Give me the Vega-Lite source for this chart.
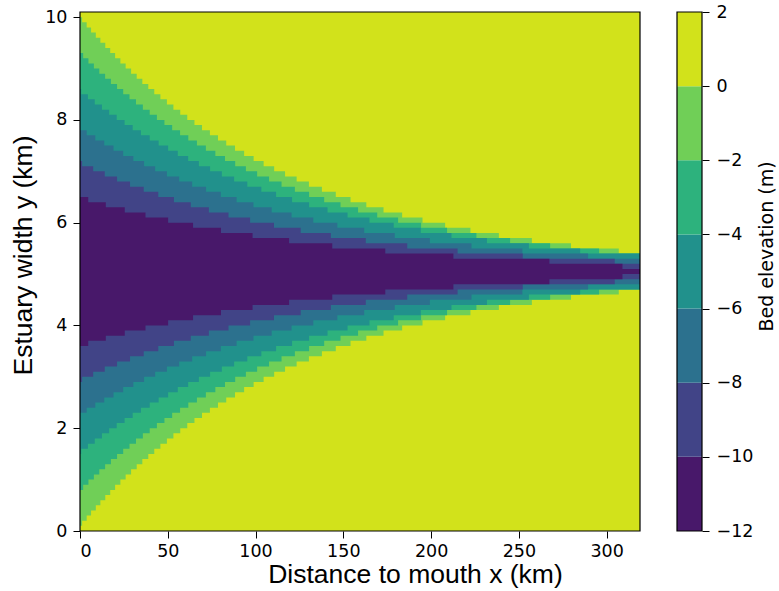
{
"$schema":"https://vega.github.io/schema/vega-lite/v6.json",
"background":"white",
"padding":{"left":10,"top":3,"right":0,"bottom":0},
"spacing":35,
"config":{
 "view":{"stroke":null},
 "axis":{"grid":false,"domain":false,"tickColor":"#000","labelColor":"#000","titleColor":"#000","labelFont":"DejaVu Sans","labelFontSize":17.5,"titleFont":"Liberation Sans","titleFontSize":26.5,"titleFontWeight":"normal","tickSize":7,"tickWidth":1}
},
"datasets":{
"bed":[
{"x":0,"band":0,"hi":10.1,"lo":0},{"x":319,"band":0,"hi":10.1,"lo":0},
{"x":0,"band":-2,"hi":10.0,"lo":0.1},{"x":1.2,"band":-2,"hi":9.9,"lo":0.2},{"x":3.8,"band":-2,"hi":9.8,"lo":0.3},{"x":6.3,"band":-2,"hi":9.7,"lo":0.4},{"x":9.0,"band":-2,"hi":9.6,"lo":0.5},{"x":11.6,"band":-2,"hi":9.5,"lo":0.6},{"x":14.4,"band":-2,"hi":9.4,"lo":0.7},{"x":17.2,"band":-2,"hi":9.3,"lo":0.8},{"x":20.0,"band":-2,"hi":9.2,"lo":0.9},{"x":23.0,"band":-2,"hi":9.1,"lo":1.0},{"x":26.0,"band":-2,"hi":9.0,"lo":1.1},{"x":29.1,"band":-2,"hi":8.9,"lo":1.2},{"x":32.3,"band":-2,"hi":8.8,"lo":1.3},{"x":35.5,"band":-2,"hi":8.7,"lo":1.4},{"x":38.9,"band":-2,"hi":8.6,"lo":1.5},{"x":42.3,"band":-2,"hi":8.5,"lo":1.6},{"x":45.8,"band":-2,"hi":8.4,"lo":1.7},{"x":49.5,"band":-2,"hi":8.3,"lo":1.8},{"x":53.2,"band":-2,"hi":8.2,"lo":1.9},{"x":57.1,"band":-2,"hi":8.1,"lo":2.0},{"x":61.1,"band":-2,"hi":8.0,"lo":2.1},{"x":65.2,"band":-2,"hi":7.9,"lo":2.2},{"x":69.5,"band":-2,"hi":7.8,"lo":2.3},{"x":74.0,"band":-2,"hi":7.7,"lo":2.4},{"x":78.6,"band":-2,"hi":7.6,"lo":2.5},{"x":83.3,"band":-2,"hi":7.5,"lo":2.6},{"x":88.3,"band":-2,"hi":7.4,"lo":2.7},{"x":93.5,"band":-2,"hi":7.3,"lo":2.8},{"x":98.9,"band":-2,"hi":7.2,"lo":2.9},{"x":104.6,"band":-2,"hi":7.1,"lo":3.0},{"x":110.6,"band":-2,"hi":7.0,"lo":3.1},{"x":116.8,"band":-2,"hi":6.9,"lo":3.2},{"x":123.4,"band":-2,"hi":6.8,"lo":3.3},{"x":130.4,"band":-2,"hi":6.7,"lo":3.4},{"x":137.8,"band":-2,"hi":6.6,"lo":3.5},{"x":145.7,"band":-2,"hi":6.5,"lo":3.6},{"x":154.1,"band":-2,"hi":6.4,"lo":3.7},{"x":163.1,"band":-2,"hi":6.3,"lo":3.8},{"x":172.9,"band":-2,"hi":6.2,"lo":3.9},{"x":183.5,"band":-2,"hi":6.1,"lo":4.0},{"x":195.1,"band":-2,"hi":6.0,"lo":4.1},{"x":208.0,"band":-2,"hi":5.9,"lo":4.2},{"x":222.4,"band":-2,"hi":5.8,"lo":4.3},{"x":238.6,"band":-2,"hi":5.7,"lo":4.4},{"x":257.4,"band":-2,"hi":5.6,"lo":4.5},{"x":279.7,"band":-2,"hi":5.5,"lo":4.6},{"x":306.9,"band":-2,"hi":5.4,"lo":4.7},{"x":319,"band":-2,"hi":5.4,"lo":4.7},
{"x":0,"band":-4,"hi":9.3,"lo":0.8},{"x":1.8,"band":-4,"hi":9.2,"lo":0.9},{"x":4.8,"band":-4,"hi":9.1,"lo":1.0},{"x":7.9,"band":-4,"hi":9.0,"lo":1.1},{"x":11.0,"band":-4,"hi":8.9,"lo":1.2},{"x":14.3,"band":-4,"hi":8.8,"lo":1.3},{"x":17.6,"band":-4,"hi":8.7,"lo":1.4},{"x":21.1,"band":-4,"hi":8.6,"lo":1.5},{"x":24.6,"band":-4,"hi":8.5,"lo":1.6},{"x":28.2,"band":-4,"hi":8.4,"lo":1.7},{"x":31.9,"band":-4,"hi":8.3,"lo":1.8},{"x":35.8,"band":-4,"hi":8.2,"lo":1.9},{"x":39.7,"band":-4,"hi":8.1,"lo":2.0},{"x":43.8,"band":-4,"hi":8.0,"lo":2.1},{"x":48.1,"band":-4,"hi":7.9,"lo":2.2},{"x":52.5,"band":-4,"hi":7.8,"lo":2.3},{"x":57.0,"band":-4,"hi":7.7,"lo":2.4},{"x":61.7,"band":-4,"hi":7.6,"lo":2.5},{"x":66.6,"band":-4,"hi":7.5,"lo":2.6},{"x":71.7,"band":-4,"hi":7.4,"lo":2.7},{"x":77.1,"band":-4,"hi":7.3,"lo":2.8},{"x":82.6,"band":-4,"hi":7.2,"lo":2.9},{"x":88.4,"band":-4,"hi":7.1,"lo":3.0},{"x":94.5,"band":-4,"hi":7.0,"lo":3.1},{"x":100.9,"band":-4,"hi":6.9,"lo":3.2},{"x":107.7,"band":-4,"hi":6.8,"lo":3.3},{"x":114.8,"band":-4,"hi":6.7,"lo":3.4},{"x":122.4,"band":-4,"hi":6.6,"lo":3.5},{"x":130.5,"band":-4,"hi":6.5,"lo":3.6},{"x":139.1,"band":-4,"hi":6.4,"lo":3.7},{"x":148.4,"band":-4,"hi":6.3,"lo":3.8},{"x":158.4,"band":-4,"hi":6.2,"lo":3.9},{"x":169.3,"band":-4,"hi":6.1,"lo":4.0},{"x":181.2,"band":-4,"hi":6.0,"lo":4.1},{"x":194.3,"band":-4,"hi":5.9,"lo":4.2},{"x":209.1,"band":-4,"hi":5.8,"lo":4.3},{"x":225.8,"band":-4,"hi":5.7,"lo":4.4},{"x":245.0,"band":-4,"hi":5.6,"lo":4.5},{"x":267.8,"band":-4,"hi":5.5,"lo":4.6},{"x":295.7,"band":-4,"hi":5.4,"lo":4.7},{"x":319,"band":-4,"hi":5.4,"lo":4.7},
{"x":0,"band":-6,"hi":8.6,"lo":1.5},{"x":0.7,"band":-6,"hi":8.5,"lo":1.6},{"x":4.5,"band":-6,"hi":8.4,"lo":1.7},{"x":8.4,"band":-6,"hi":8.3,"lo":1.8},{"x":12.5,"band":-6,"hi":8.2,"lo":1.9},{"x":16.6,"band":-6,"hi":8.1,"lo":2.0},{"x":20.9,"band":-6,"hi":8.0,"lo":2.1},{"x":25.4,"band":-6,"hi":7.9,"lo":2.2},{"x":30.0,"band":-6,"hi":7.8,"lo":2.3},{"x":34.7,"band":-6,"hi":7.7,"lo":2.4},{"x":39.7,"band":-6,"hi":7.6,"lo":2.5},{"x":44.8,"band":-6,"hi":7.5,"lo":2.6},{"x":50.2,"band":-6,"hi":7.4,"lo":2.7},{"x":55.7,"band":-6,"hi":7.3,"lo":2.8},{"x":61.6,"band":-6,"hi":7.2,"lo":2.9},{"x":67.7,"band":-6,"hi":7.1,"lo":3.0},{"x":74.1,"band":-6,"hi":7.0,"lo":3.1},{"x":80.8,"band":-6,"hi":6.9,"lo":3.2},{"x":87.8,"band":-6,"hi":6.8,"lo":3.3},{"x":95.3,"band":-6,"hi":6.7,"lo":3.4},{"x":103.3,"band":-6,"hi":6.6,"lo":3.5},{"x":111.7,"band":-6,"hi":6.5,"lo":3.6},{"x":120.8,"band":-6,"hi":6.4,"lo":3.7},{"x":130.5,"band":-6,"hi":6.3,"lo":3.8},{"x":141.0,"band":-6,"hi":6.2,"lo":3.9},{"x":152.4,"band":-6,"hi":6.1,"lo":4.0},{"x":164.9,"band":-6,"hi":6.0,"lo":4.1},{"x":178.7,"band":-6,"hi":5.9,"lo":4.2},{"x":194.1,"band":-6,"hi":5.8,"lo":4.3},{"x":211.6,"band":-6,"hi":5.7,"lo":4.4},{"x":231.8,"band":-6,"hi":5.6,"lo":4.5},{"x":255.7,"band":-6,"hi":5.5,"lo":4.6},{"x":284.9,"band":-6,"hi":5.4,"lo":4.7},{"x":319,"band":-6,"hi":5.4,"lo":4.7},
{"x":0,"band":-8,"hi":7.8,"lo":2.3},{"x":3.8,"band":-8,"hi":7.7,"lo":2.4},{"x":8.7,"band":-8,"hi":7.6,"lo":2.5},{"x":13.8,"band":-8,"hi":7.5,"lo":2.6},{"x":19.1,"band":-8,"hi":7.4,"lo":2.7},{"x":24.6,"band":-8,"hi":7.3,"lo":2.8},{"x":30.4,"band":-8,"hi":7.2,"lo":2.9},{"x":36.5,"band":-8,"hi":7.1,"lo":3.0},{"x":42.8,"band":-8,"hi":7.0,"lo":3.1},{"x":49.5,"band":-8,"hi":6.9,"lo":3.2},{"x":56.5,"band":-8,"hi":6.8,"lo":3.3},{"x":63.9,"band":-8,"hi":6.7,"lo":3.4},{"x":71.8,"band":-8,"hi":6.6,"lo":3.5},{"x":80.2,"band":-8,"hi":6.5,"lo":3.6},{"x":89.2,"band":-8,"hi":6.4,"lo":3.7},{"x":98.8,"band":-8,"hi":6.3,"lo":3.8},{"x":109.2,"band":-8,"hi":6.2,"lo":3.9},{"x":120.5,"band":-8,"hi":6.1,"lo":4.0},{"x":132.9,"band":-8,"hi":6.0,"lo":4.1},{"x":146.6,"band":-8,"hi":5.9,"lo":4.2},{"x":161.9,"band":-8,"hi":5.8,"lo":4.3},{"x":179.3,"band":-8,"hi":5.7,"lo":4.4},{"x":199.3,"band":-8,"hi":5.6,"lo":4.5},{"x":223.0,"band":-8,"hi":5.5,"lo":4.6},{"x":252.0,"band":-8,"hi":5.4,"lo":4.7},{"x":289.4,"band":-8,"hi":5.3,"lo":4.8},{"x":319,"band":-8,"hi":5.3,"lo":4.8},
{"x":0,"band":-10,"hi":7.2,"lo":2.9},{"x":1.2,"band":-10,"hi":7.1,"lo":3.0},{"x":7.5,"band":-10,"hi":7.0,"lo":3.1},{"x":14.1,"band":-10,"hi":6.9,"lo":3.2},{"x":21.1,"band":-10,"hi":6.8,"lo":3.3},{"x":28.5,"band":-10,"hi":6.7,"lo":3.4},{"x":36.3,"band":-10,"hi":6.6,"lo":3.5},{"x":44.6,"band":-10,"hi":6.5,"lo":3.6},{"x":53.5,"band":-10,"hi":6.4,"lo":3.7},{"x":63.1,"band":-10,"hi":6.3,"lo":3.8},{"x":73.4,"band":-10,"hi":6.2,"lo":3.9},{"x":84.6,"band":-10,"hi":6.1,"lo":4.0},{"x":96.9,"band":-10,"hi":6.0,"lo":4.1},{"x":110.5,"band":-10,"hi":5.9,"lo":4.2},{"x":125.7,"band":-10,"hi":5.8,"lo":4.3},{"x":142.9,"band":-10,"hi":5.7,"lo":4.4},{"x":162.8,"band":-10,"hi":5.6,"lo":4.5},{"x":186.4,"band":-10,"hi":5.5,"lo":4.6},{"x":215.1,"band":-10,"hi":5.4,"lo":4.7},{"x":252.2,"band":-10,"hi":5.3,"lo":4.8},{"x":304.6,"band":-10,"hi":5.2,"lo":4.9},{"x":319,"band":-10,"hi":5.2,"lo":4.9},
{"x":0,"band":-12,"hi":6.5,"lo":3.6},{"x":4.7,"band":-12,"hi":6.4,"lo":3.7},{"x":14.7,"band":-12,"hi":6.3,"lo":3.8},{"x":25.5,"band":-12,"hi":6.2,"lo":3.9},{"x":37.3,"band":-12,"hi":6.1,"lo":4.0},{"x":50.2,"band":-12,"hi":6.0,"lo":4.1},{"x":64.4,"band":-12,"hi":5.9,"lo":4.2},{"x":80.3,"band":-12,"hi":5.8,"lo":4.3},{"x":98.3,"band":-12,"hi":5.7,"lo":4.4},{"x":119.1,"band":-12,"hi":5.6,"lo":4.5},{"x":143.7,"band":-12,"hi":5.5,"lo":4.6},{"x":173.9,"band":-12,"hi":5.4,"lo":4.7},{"x":212.7,"band":-12,"hi":5.3,"lo":4.8},{"x":267.4,"band":-12,"hi":5.2,"lo":4.9},{"x":309,"band":-12,"hi":5.1,"lo":5.0},{"x":319,"band":-12,"hi":5.1,"lo":5.0}
],
"bar":[
{"band":-12,"lo":-12,"hi":-10},{"band":-10,"lo":-10,"hi":-8},{"band":-8,"lo":-8,"hi":-6},{"band":-6,"lo":-6,"hi":-4},{"band":-4,"lo":-4,"hi":-2},{"band":-2,"lo":-2,"hi":0},{"band":0,"lo":0,"hi":2}
]
},
"hconcat":[
{
 "width":560,"height":519,
 "data":{"name":"bed"},
 "encoding":{
  "x":{"field":"x","type":"quantitative","scale":{"domain":[0,319],"nice":false,"zero":false},
       "axis":{"values":[0,50,100,150,200,250,300],"title":"Distance to mouth x (km)","labelPadding":4,"titlePadding":2,"titleX":335}},
  "y":{"field":"lo","type":"quantitative","stack":null,"scale":{"domain":[0,10.1],"nice":false,"zero":false},
       "axis":{"values":[0,2,4,6,8,10],"title":"Estuary width y (km)","labelPadding":6,"titlePadding":7,"titleY":243}},
  "y2":{"field":"hi"},
  "color":{"field":"band","type":"ordinal","scale":{"domain":[-12,-10,-8,-6,-4,-2,0],"range":["#48186a","#414487","#2c718e","#21918c","#2db27d","#70cf57","#d2e21b"]},"legend":null}
 },
 "layer":[
  {"transform":[{"filter":"datum.band == 0"}],"mark":{"type":"area","interpolate":"step-after"}},
  {"transform":[{"filter":"datum.band == -2"}],"mark":{"type":"area","interpolate":"step-after"}},
  {"transform":[{"filter":"datum.band == -4"}],"mark":{"type":"area","interpolate":"step-after"}},
  {"transform":[{"filter":"datum.band == -6"}],"mark":{"type":"area","interpolate":"step-after"}},
  {"transform":[{"filter":"datum.band == -8"}],"mark":{"type":"area","interpolate":"step-after"}},
  {"transform":[{"filter":"datum.band == -10"}],"mark":{"type":"area","interpolate":"step-after"}},
  {"transform":[{"filter":"datum.band == -12"}],"mark":{"type":"area","interpolate":"step-after"}},
  {"transform":[{"filter":"datum.band == 0"}],
   "mark":{"type":"rect","fill":null,"stroke":"#000","strokeWidth":1.2},
   "encoding":{"x":{"aggregate":"min","field":"x","type":"quantitative"},"x2":{"aggregate":"max","field":"x"},
               "y":{"aggregate":"min","field":"lo","type":"quantitative"},"y2":{"aggregate":"max","field":"hi"},
               "color":{"value":null}}}
 ]
},
{
 "width":25,"height":519,
 "data":{"name":"bar"},
 "encoding":{
  "y":{"field":"lo","type":"quantitative","scale":{"domain":[-12,2],"nice":false,"zero":false},
       "axis":{"orient":"right","values":[-12,-10,-8,-6,-4,-2,0,2],"title":"Bed elevation (m)","titleFont":"DejaVu Sans","titleFontSize":19,"titleAngle":270,"titleBaseline":"bottom","labelPadding":7,"titlePadding":24,"titleY":234}},
  "y2":{"field":"hi"}
 },
 "layer":[
  {"mark":"rect","encoding":{"color":{"field":"band","type":"ordinal","legend":null}}},
  {"mark":{"type":"rect","fill":null,"stroke":"#000","strokeWidth":1.2},
   "encoding":{"y":{"aggregate":"min","field":"lo","type":"quantitative"},"y2":{"aggregate":"max","field":"hi"}}}
 ]
}
]
}
